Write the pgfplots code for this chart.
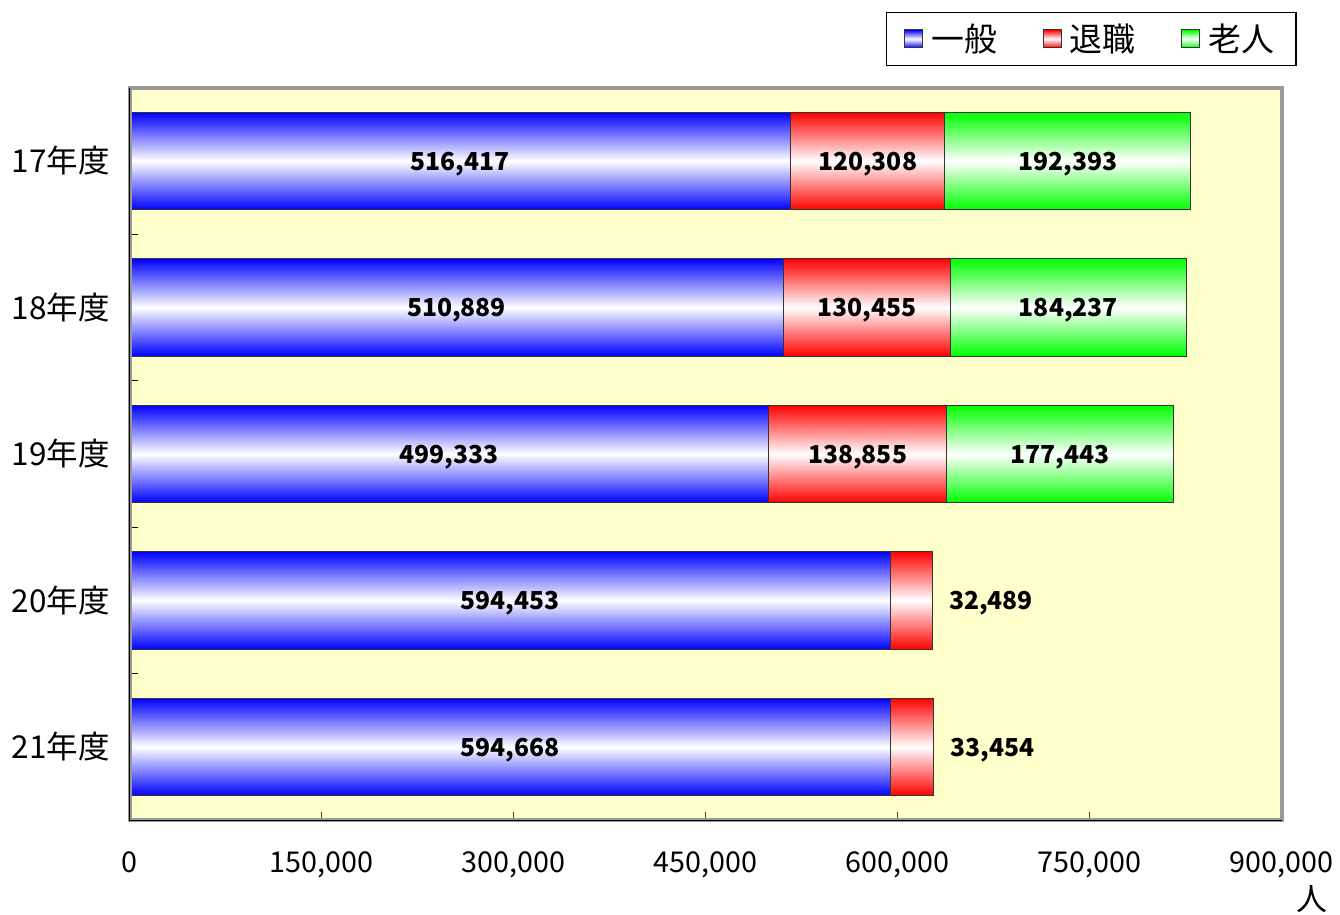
\documentclass[border=0pt]{standalone}
\usepackage{fontspec}
\setmainfont{Noto Sans CJK JP}
\usepackage{pgfplots}
\pgfplotsset{compat=1.18}
\definecolor{bg}{HTML}{FFFFCC}
\definecolor{framegray}{HTML}{999999}
\definecolor{cblue}{HTML}{0000FF}
\definecolor{cred}{HTML}{FF0000}
\definecolor{cgreen}{HTML}{00FF00}
\tikzset{
  vl/.style={font=\fontsize{12.4}{14}\selectfont\bfseries, yshift=-1.5pt},
  bb/.style={draw=black!80, line width=0.5pt, top color=cblue, bottom color=cblue, middle color=white},
  rb/.style={draw=black!80, line width=0.5pt, top color=cred, bottom color=cred, middle color=white},
  gb/.style={draw=black!80, line width=0.5pt, top color=cgreen, bottom color=cgreen, middle color=white},
}
\begin{document}
\begin{tikzpicture}
\begin{axis}[
  xbar, bar shift=0pt,
  scale only axis, clip=false,
  width=578pt, height=367.5pt,
  xmin=0, xmax=900000,
  ymin=-0.5, ymax=4.5,
  y dir=reverse,
  bar width=49pt,
  axis background/.style={fill=bg},
  axis line style={draw=framegray, line width=2pt},
  tick align=inside,
  xtick pos=lower, ytick pos=left,
  xtick={0,150000,300000,450000,600000,750000,900000},
  xticklabels={0,{150,000},{300,000},{450,000},{600,000},{750,000},{900,000}},
  scaled x ticks=false,
  xticklabel style={font=\fontsize{14.4}{16}\selectfont, yshift=-12.5pt},
  x tick style={draw=black!70, line width=0.6pt},
  major tick length=4pt,
  ytick={0.5,1.5,2.5,3.5},
  yticklabels={,,,},
  y tick style={draw=black, line width=0.6pt},
  extra y ticks={0,1,2,3,4},
  extra y tick labels={17年度,18年度,19年度,20年度,21年度},
  extra y tick style={major tick length=0pt, yticklabel style={font=\fontsize{15.8}{18}\selectfont, xshift=-6.5pt}},
  legend columns=3,
  legend style={at={(axis description cs:1,1)}, anchor=south east, xshift=7.5pt, yshift=11pt,
    draw=black, line width=0.6pt, font=\fontsize{16.5}{19}\selectfont,
    inner xsep=9pt, inner ysep=3.5pt,
    /tikz/every even column/.append style={column sep=21pt},
    /tikz/every odd column/.append style={column sep=2pt}},
  legend image code/.code={\draw[#1] (0pt,-4.5pt) rectangle (9pt,4.5pt);},
]
% cumulative totals (green drawn first, then red, then blue on top)
\addplot[gb, forget plot] coordinates {(829118,0)};
\addplot[gb, forget plot] coordinates {(825581,1)};
\addplot[gb, forget plot] coordinates {(815631,2)};
\addplot[rb, forget plot] coordinates {(636725,0)};
\addplot[rb, forget plot] coordinates {(641344,1)};
\addplot[rb, forget plot] coordinates {(638188,2)};
\addplot[rb, forget plot] coordinates {(626942,3)};
\addplot[rb, forget plot] coordinates {(628122,4)};
\addplot[bb, forget plot] coordinates {(516417,0)};
\addplot[bb, forget plot] coordinates {(510889,1)};
\addplot[bb, forget plot] coordinates {(499333,2)};
\addplot[bb, forget plot] coordinates {(594453,3)};
\addplot[bb, forget plot] coordinates {(594668,4)};
\addlegendimage{bb}
\addlegendimage{rb}
\addlegendimage{gb}
\legend{一般,退職,老人}
\node[vl] at (axis cs:258208.5,0) {516,417};
\node[vl] at (axis cs:576571,0) {120,308};
\node[vl] at (axis cs:732921.5,0) {192,393};
\node[vl] at (axis cs:255444.5,1) {510,889};
\node[vl] at (axis cs:576116.5,1) {130,455};
\node[vl] at (axis cs:733462.5,1) {184,237};
\node[vl] at (axis cs:249666.5,2) {499,333};
\node[vl] at (axis cs:568760.5,2) {138,855};
\node[vl] at (axis cs:726909.5,2) {177,443};
\node[vl] at (axis cs:297226.5,3) {594,453};
\node[vl, anchor=west, xshift=5pt] at (axis cs:626942,3) {32,489};
\node[vl] at (axis cs:297334,4) {594,668};
\node[vl, anchor=west, xshift=5pt] at (axis cs:628122,4) {33,454};
\draw[framegray, line width=2pt] (axis description cs:0,0) rectangle (axis description cs:1,1);
\draw[black, line width=0.5pt] (axis description cs:0,1) -- (axis description cs:0,0) -- (axis description cs:1,0);
\node[font=\fontsize{15.5}{17}\selectfont, inner sep=0pt] at ([xshift=15pt, yshift=-39.5pt]axis description cs:1,0) {人};
\coordinate (O) at (axis description cs:0,0);
\end{axis}
\path (O) ++(-65pt,-47.5pt) rectangle ++(670pt,459pt);
\end{tikzpicture}
\end{document}
